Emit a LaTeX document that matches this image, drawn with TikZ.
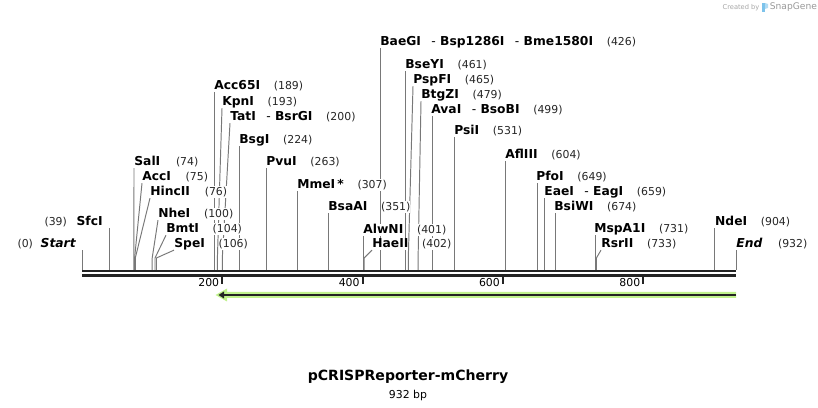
\documentclass[tikz,border=0pt]{standalone}
\usepackage{fontspec}
\setmainfont{DejaVu Sans}
\usetikzlibrary{positioning,backgrounds}
\definecolor{sitegray}{RGB}{120,120,120}
\definecolor{mcgreen}{RGB}{192,242,140}
\definecolor{darkline}{RGB}{35,35,35}
\definecolor{logoblue}{RGB}{125,195,235}
\tikzstyle{enz} = [inner sep=0pt,anchor=west,fill=white,font=\fontsize{7}{8}\selectfont\bfseries,text height=5.2pt,text depth=1.4pt]
\tikzstyle{cutnum} = [inner sep=0pt,fill=white,font=\fontsize{6.2}{7}\selectfont,text height=5.2pt,text depth=1.4pt,text=black!85]
\tikzstyle{siteline} = [sitegray,line width=0.55pt]
\tikzstyle{backbone} = [darkline,line width=1.7pt]
\tikzstyle{rulertick} = [darkline,line width=1.1pt]
\newcommand{\orsep}{\hspace{0.85em}{\mdseries -}\hspace{0.35em}}

\begin{document}
\begin{tikzpicture}[x=0.02cm,y=-0.02cm]
			\useasboundingbox (0,0) rectangle (818,408);
			%Cut sites on the sequence
			\coordinate (c0) at (82,270);
			\coordinate (c39) at (109.4,270);
			\coordinate (c74) at (133.9,270);
			\coordinate (c75) at (134.6,270);
			\coordinate (c76) at (135.3,270);
			\coordinate (c100) at (152.2,270);
			\coordinate (c104) at (155.0,270);
			\coordinate (c106) at (156.4,270);
			\coordinate (c189) at (214.6,270);
			\coordinate (c193) at (217.4,270);
			\coordinate (c200) at (222.3,270);
			\coordinate (c224) at (239.2,270);
			\coordinate (c263) at (266.5,270);
			\coordinate (c307) at (297.4,270);
			\coordinate (c351) at (328.3,270);
			\coordinate (c401) at (363.4,270);
			\coordinate (c402) at (364.1,270);
			\coordinate (c426) at (380.9,270);
			\coordinate (c461) at (405.5,270);
			\coordinate (c465) at (408.3,270);
			\coordinate (c479) at (418.1,270);
			\coordinate (c499) at (432.1,270);
			\coordinate (c531) at (454.6,270);
			\coordinate (c604) at (505.8,270);
			\coordinate (c649) at (537.4,270);
			\coordinate (c659) at (544.4,270);
			\coordinate (c674) at (555.0,270);
			\coordinate (c731) at (595.0,270);
			\coordinate (c733) at (596.4,270);
			\coordinate (c904) at (714.8,270);
			\coordinate (c932) at (736,270);
			
			%Enzyme labels
			\node[enz,anchor=east] (start) at (76,244) {\itshape Start};
			\node[cutnum,left=0.14cm of start] (startpos) {(0)};
			\node[enz,anchor=east] (sfcI) at (103,222) {SfcI};
			\node[cutnum,left=0.18cm of sfcI] (sfcIpos) {(39)};
			\node[enz] (salI) at (134,162) {SalI};
			\node[cutnum,right=0.3cm of salI] (salIpos) {(74)};
			\node[enz] (accI) at (142,177) {AccI};
			\node[cutnum,right=0.28cm of accI] (accIpos) {(75)};
			\node[enz] (hincII) at (150,192) {HincII};
			\node[cutnum,right=0.28cm of hincII] (hincIIpos) {(76)};
			\node[enz] (nheI) at (158,214) {NheI};
			\node[cutnum,right=0.26cm of nheI] (nheIpos) {(100)};
			\node[enz] (bmtI) at (166,229) {BmtI};
			\node[cutnum,right=0.26cm of bmtI] (bmtIpos) {(104)};
			\node[enz] (speI) at (174,244) {SpeI};
			\node[cutnum,right=0.26cm of speI] (speIpos) {(106)};
			\node[enz] (acc65I) at (214,86) {Acc65I};
			\node[cutnum,right=0.26cm of acc65I] (acc65Ipos) {(189)};
			\node[enz] (kpnI) at (222,102) {KpnI};
			\node[cutnum,right=0.26cm of kpnI] (kpnIpos) {(193)};
			\node[enz] (tatI) at (230,117) {TatI\orsep BsrGI};
			\node[cutnum,right=0.26cm of tatI] (tatIpos) {(200)};
			\node[enz] (bsgI) at (239,140) {BsgI};
			\node[cutnum,right=0.26cm of bsgI] (bsgIpos) {(224)};
			\node[enz] (pvuI) at (266,162) {PvuI};
			\node[cutnum,right=0.26cm of pvuI] (pvuIpos) {(263)};
			\node[enz] (mmeI) at (297,185) {MmeI\,*};
			\node[cutnum,right=0.26cm of mmeI] (mmeIpos) {(307)};
			\node[enz] (bsaAI) at (328,207) {BsaAI};
			\node[cutnum,right=0.26cm of bsaAI] (bsaAIpos) {(351)};
			\node[enz] (alwNI) at (363,230) {AlwNI};
			\node[cutnum,right=0.26cm of alwNI] (alwNIpos) {(401)};
			\node[enz] (haeII) at (372,244) {HaeII};
			\node[cutnum,right=0.26cm of haeII] (haeIIpos) {(402)};
			\node[enz] (baeGI) at (380,42) {BaeGI\orsep Bsp1286I\orsep Bme1580I};
			\node[cutnum,right=0.26cm of baeGI] (baeGIpos) {(426)};
			\node[enz] (bseYI) at (405,65) {BseYI};
			\node[cutnum,right=0.26cm of bseYI] (bseYIpos) {(461)};
			\node[enz] (pspFI) at (413,80) {PspFI};
			\node[cutnum,right=0.26cm of pspFI] (pspFIpos) {(465)};
			\node[enz] (btgZI) at (421,95) {BtgZI};
			\node[cutnum,right=0.26cm of btgZI] (btgZIpos) {(479)};
			\node[enz] (avaI) at (431,110) {AvaI\orsep BsoBI};
			\node[cutnum,right=0.26cm of avaI] (avaIpos) {(499)};
			\node[enz] (psiI) at (454,131) {PsiI};
			\node[cutnum,right=0.26cm of psiI] (psiIpos) {(531)};
			\node[enz] (aflIII) at (505,155) {AflIII};
			\node[cutnum,right=0.26cm of aflIII] (aflIIIpos) {(604)};
			\node[enz] (pfoI) at (536,177) {PfoI};
			\node[cutnum,right=0.26cm of pfoI] (pfoIpos) {(649)};
			\node[enz] (eaeI) at (544,192) {EaeI\orsep EagI};
			\node[cutnum,right=0.26cm of eaeI] (eaeIpos) {(659)};
			\node[enz] (bsiWI) at (554,207) {BsiWI};
			\node[cutnum,right=0.26cm of bsiWI] (bsiWIpos) {(674)};
			\node[enz] (mspA1I) at (594,229) {MspA1I};
			\node[cutnum,right=0.26cm of mspA1I] (mspA1Ipos) {(731)};
			\node[enz] (rsrII) at (601,244) {RsrII};
			\node[cutnum,right=0.26cm of rsrII] (rsrIIpos) {(733)};
			\node[enz] (ndeI) at (714.8,222) {NdeI};
			\node[cutnum,right=0.26cm of ndeI] (ndeIpos) {(904)};
			\node[enz] (end) at (736,244) {\itshape End};
			\node[cutnum,right=0.3cm of end] (endpos) {(932)};
			
			%Site lines (behind the labels)
			\begin{pgfonlayer}{background}
			\draw[siteline] (c0) -- (c0 |- start.south);
			\draw[siteline] (c39) -- (c39 |- sfcI.south);
			\draw[siteline] (c74) -- (salI.south west);
			\draw[siteline] (c75) -- ++(0,-12) -- (accI.south west);
			\draw[siteline] (c76) -- ++(0,-12) -- (hincII.south west);
			\draw[siteline] (c100) -- ++(0,-12) -- (nheI.south west);
			\draw[siteline] (c104) -- ++(0,-12) -- (bmtI.south west);
			\draw[siteline] (c106) -- ++(0,-12) -- (speI.south west);
			\draw[siteline] (c189) -- (c189 |- acc65I.south);
			\draw[siteline] (c193) -- ++(0,-12) -- (kpnI.south west);
			\draw[siteline] (c200) -- ++(0,-12) -- (tatI.south west);
			\draw[siteline] (c224) -- (c224 |- bsgI.south);
			\draw[siteline] (c263) -- (c263 |- pvuI.south);
			\draw[siteline] (c307) -- (c307 |- mmeI.south);
			\draw[siteline] (c351) -- (c351 |- bsaAI.south);
			\draw[siteline] (c401) -- (c401 |- alwNI.south);
			\draw[siteline] (c402) -- ++(0,-12) -- (haeII.south west);
			\draw[siteline] (c426) -- (c426 |- baeGI.south);
			\draw[siteline] (c461) -- (c461 |- bseYI.south);
			\draw[siteline] (c465) -- ++(0,-12) -- (pspFI.south west);
			\draw[siteline] (c479) -- ++(0,-12) -- (btgZI.south west);
			\draw[siteline] (c499) -- (c499 |- avaI.south);
			\draw[siteline] (c531) -- (c531 |- psiI.south);
			\draw[siteline] (c604) -- (c604 |- aflIII.south);
			\draw[siteline] (c649) -- (c649 |- pfoI.south);
			\draw[siteline] (c659) -- (c659 |- eaeI.south);
			\draw[siteline] (c674) -- (c674 |- bsiWI.south);
			\draw[siteline] (c731) -- (c731 |- mspA1I.south);
			\draw[siteline] (c733) -- ++(0,-12) -- (rsrII.south west);
			\draw[siteline] (c904) -- (c904 |- ndeI.south);
			\draw[siteline] (c932) -- (c932 |- end.south);
			\end{pgfonlayer}
			
			%Sequence
			\coordinate (seqL) at (82,271);
			\coordinate (seqR) at (736,271);
			\coordinate (seqL2) at (82,275.6);
			\coordinate (seqR2) at (736,275.6);
			\draw[backbone] (seqL) -- (seqR);
			\draw[backbone] (seqL2) -- (seqR2);
			
			%Ruler
			\draw[rulertick] (222.3,277) -- (222.3,284);
			\draw[rulertick] (362.7,277) -- (362.7,284);
			\draw[rulertick] (503.0,277) -- (503.0,284);
			\draw[rulertick] (643.4,277) -- (643.4,284);
			\node[cutnum,anchor=east,text=black] (r200) at (219.5,283) {200};
			\node[cutnum,anchor=east,text=black] (r400) at (359.9,283) {400};
			\node[cutnum,anchor=east,text=black] (r600) at (500.2,283) {600};
			\node[cutnum,anchor=east,text=black] (r800) at (640.6,283) {800};
			
			%mCherry feature
			\fill[mcgreen] (736,292) -- (227,292) -- (227,288.5) -- (215.5,295) -- (227,301.5) -- (227,298) -- (736,298) -- cycle;
			\draw[darkline,line width=1.1pt] (736,295) -- (224,295);
			\fill[darkline] (224,291.5) -- (218.5,295) -- (224,298.5) -- cycle;
			
			%Title
			\node[font=\fontsize{8}{9}\selectfont\bfseries,inner sep=0pt] (title) at (408,377) {pCRISPReporter-mCherry};
			\node[font=\fontsize{6.2}{7}\selectfont,inner sep=0pt,below=0.12cm of title] (size) {932 bp};
			
			%Credit
			\node[font=\fontsize{3.8}{4}\selectfont,text=black!35,inner sep=0pt] (created) at (741,7.5) {Created by};
			\fill[logoblue] (762,3) rectangle (765,12);
			\fill[logoblue!60] (765,3) -- (768,4) -- (768,8) -- (765,9) -- cycle;
			\node[font=\fontsize{5.2}{6}\selectfont,text=black!40,inner sep=0pt,anchor=west] (snapgene) at (769.5,7.5) {SnapGene};
		\end{tikzpicture}
\end{document}
